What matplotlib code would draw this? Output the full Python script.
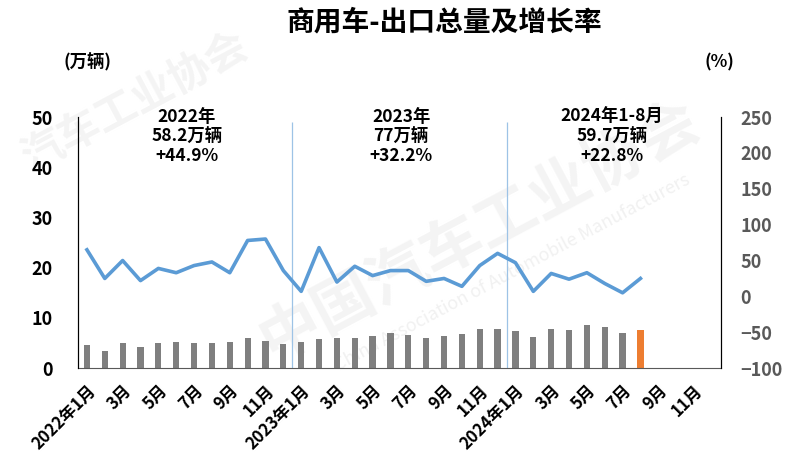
import numpy as np
import matplotlib
matplotlib.use("Agg")
import matplotlib.pyplot as plt

plt.rcParams['font.family'] = ['Noto Sans CJK SC', 'DejaVu Sans']

# monthly labels (every month, 2022-01 .. 2024-12)
months = []
for y in [2022, 2023, 2024]:
    for m in range(1, 13):
        months.append(f"{y}年{m}月" if m == 1 else f"{m}月")

# exports, 10k units (2022-01 .. 2024-08)
exports = [4.6, 3.5, 4.9, 4.3, 4.9, 5.2, 4.9, 4.9, 5.1, 5.9, 5.3, 4.8,
           5.1, 5.8, 5.9, 6.0, 6.3, 7.0, 6.6, 5.9, 6.4, 6.7, 7.7, 7.8,
           7.4, 6.2, 7.8, 7.5, 8.5, 8.2, 7.0, 7.5]
# year-on-year growth, %
growth = [65, 25, 50, 22, 39, 33, 43, 48, 33, 78, 80, 36,
          7, 68, 20, 42, 29, 36, 36, 21, 25, 14, 43, 60,
          47, 7, 32, 24, 33, 18, 5, 25]

notes = ["2022年\n58.2万辆\n+44.9%", "2023年\n77万辆\n+32.2%", "2024年1-8月\n59.7万辆\n+22.8%"]
note_x = [5.6, 17.6, 29.4]

x = np.arange(len(exports))
bar_colors = ["#7F7F7F"] * (len(exports) - 1) + ["#ED7D31"]

fig = plt.figure(figsize=(8, 4.63), dpi=100)

# faint watermark on a background axes
bg = fig.add_axes([0, 0, 1, 1], zorder=-5)
bg.axis("off")
bg.text(0.60, 0.50, "中国汽车工业协会", fontsize=44, fontweight="bold", color="#F4F4F4",
        rotation=28, ha="center", va="center")
bg.text(0.64, 0.41, "China Association of Automobile Manufacturers", fontsize=13,
        color="#F1F1F1", rotation=28, ha="center", va="center")
bg.text(0.17, 0.78, "汽车工业协会", fontsize=30, fontweight="bold", color="#F4F4F4",
        rotation=28, ha="center", va="center")

ax = fig.add_axes([0.0975, 0.205, 0.8035, 0.542])
ax2 = ax.twinx()

ax.bar(x, exports, width=0.35, color=bar_colors, zorder=2)
ax2.plot(x, growth, color="#5B9BD5", linewidth=2.6, zorder=3)

ax.vlines([11.5, 23.5], 0, 49, color="#9DC3E6", linewidth=0.9, zorder=1)

ax.set_xlim(-0.5, 35.5)
ax.set_ylim(0, 50)
ax2.set_ylim(-100, 250)
ax.set_yticks(range(0, 51, 10))
ax2.set_yticks(range(-100, 251, 50))

ax.set_xticks(range(0, 36, 2))
ax.set_xticklabels(months[::2], rotation=45, ha="right", va="top",
                   rotation_mode="anchor", fontsize=12, fontweight="bold")
ax.tick_params(axis="x", length=0, pad=10)
ax.tick_params(axis="y", length=0, pad=18, labelsize=13)
ax2.tick_params(axis="y", length=0, pad=14, labelsize=13, labelcolor="#595959")
for lab in ax.get_yticklabels() + ax2.get_yticklabels():
    lab.set_fontweight("bold")

for a in (ax, ax2):
    a.spines["top"].set_visible(False)
    a.patch.set_alpha(0)
ax.spines["bottom"].set_color("#595959")
ax2.spines["bottom"].set_visible(False)

for t, nx in zip(notes, note_x):
    ax.text(nx, 51.8, t, ha="center", va="top", fontsize=12.5, fontweight="bold",
            linespacing=1.1, zorder=4)

fig.text(0.555, 0.952, "商用车-出口总量及增长率", ha="center", va="center",
         fontsize=20, fontweight="heavy")
fig.text(0.109, 0.866, "(万辆)", ha="center", va="center", fontsize=12.5, fontweight="bold")
fig.text(0.899, 0.866, "(%)", ha="center", va="center", fontsize=12.5, fontweight="bold")

fig.savefig("out.png", dpi=100)
